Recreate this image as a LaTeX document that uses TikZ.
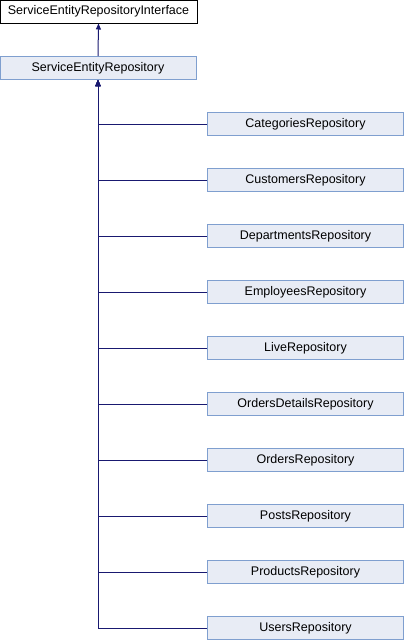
\documentclass[tikz,border=0pt]{standalone}
\usepackage{fontspec}
\setmainfont{Liberation Sans}
\usetikzlibrary{arrows.meta}
\definecolor{boxfill}{HTML}{E8ECF5}
\definecolor{boxline}{HTML}{7F9FCF}
\definecolor{edgecol}{HTML}{191970}
\begin{document}
\begin{tikzpicture}[x=1pt,y=-1pt,
  cls/.style={draw=boxline,fill=boxfill,minimum width=196pt,minimum height=23pt,inner sep=0pt,font=\fontsize{12.5}{14}\selectfont,line width=1pt},
  iface/.style={cls,draw=black,fill=white,minimum width=197pt},
  inh/.style={draw=edgecol,line width=1pt,-{Triangle[length=6pt,width=5pt]}}]
\useasboundingbox (0,0) rectangle (404,640);
\node[iface] (ser) at (98.5,11.5) {ServiceEntityRepositoryInterface};
\node[cls] (base) at (98,68) {ServiceEntityRepository};
\draw[inh] (base.north) -- (ser.south);
\foreach \n [count=\i from 0] in {Categories,Customers,Departments,Employees,Live,OrdersDetails,Orders,Posts,Products,Users}{
  \node[cls] (c\i) at (305.5,124+56*\i) {\n Repository};
}
\foreach \i in {0,...,9}{
  \draw[inh] (c\i.west) -| (base.south);
}
\end{tikzpicture}
\end{document}
